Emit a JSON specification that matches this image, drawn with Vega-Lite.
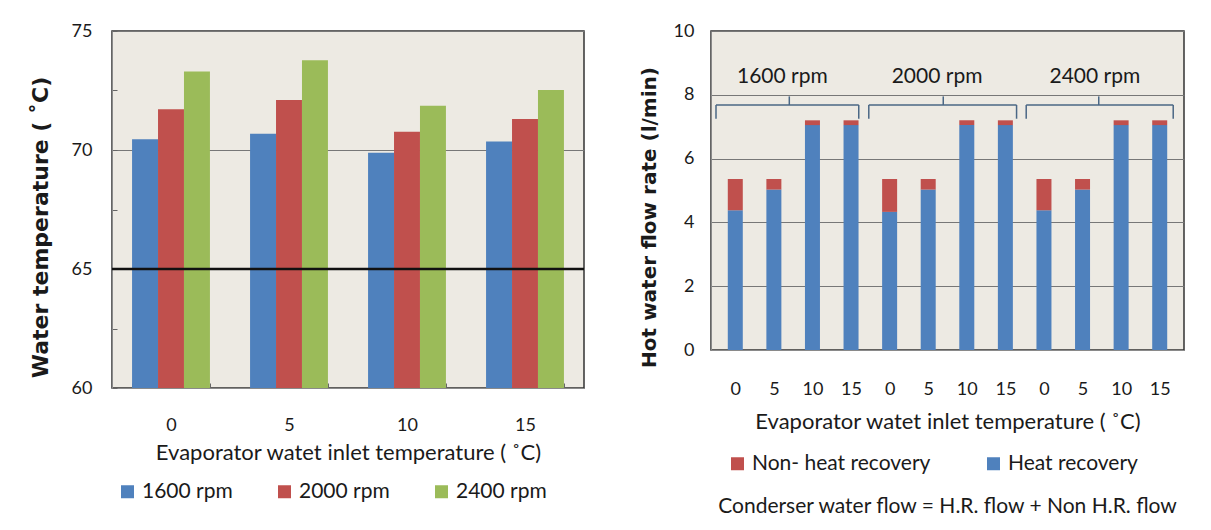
{
  "$schema": "https://vega.github.io/schema/vega-lite/v6.json",
  "background": "white",
  "padding": {"left": 28, "top": 21, "right": 5, "bottom": 5},
  "config": {
    "font": "Lato",
    "view": {"fill": "#EDEAE3", "stroke": "#333333", "strokeWidth": 1.5},
    "axis": {"labelColor": "#1a1a1a", "titleColor": "#1a1a1a", "labelFontSize": 18, "titleFontSize": 22, "titleFontWeight": "normal", "domainColor": "#8a8a8a", "tickColor": "#666666"},
    "legend": {"labelFontSize": 21, "labelColor": "#1a1a1a", "symbolType": "square", "symbolSize": 169, "symbolStrokeWidth": 0, "labelOffset": 4, "columnPadding": 41, "labelLimit": 400}
  },
  "resolve": {
    "scale": {"x": "independent", "y": "independent", "color": "independent"},
    "axis": {"x": "independent", "y": "independent"},
    "legend": {"color": "independent"}
  },
  "datasets": {
    "temps": [
      {"temp": 0, "rpm": "1600 rpm", "value": 70.45},
      {"temp": 0, "rpm": "2000 rpm", "value": 71.71},
      {"temp": 0, "rpm": "2400 rpm", "value": 73.3},
      {"temp": 5, "rpm": "1600 rpm", "value": 70.68},
      {"temp": 5, "rpm": "2000 rpm", "value": 72.1},
      {"temp": 5, "rpm": "2400 rpm", "value": 73.77},
      {"temp": 10, "rpm": "1600 rpm", "value": 69.88},
      {"temp": 10, "rpm": "2000 rpm", "value": 70.77},
      {"temp": 10, "rpm": "2400 rpm", "value": 71.86},
      {"temp": 15, "rpm": "1600 rpm", "value": 70.36},
      {"temp": 15, "rpm": "2000 rpm", "value": 71.3},
      {"temp": 15, "rpm": "2400 rpm", "value": 72.52}
    ],
    "flows": [
      {"idx": 0, "rpm": "1600 rpm", "temp": 0, "part": "Heat recovery", "flow": 4.38},
      {"idx": 0, "rpm": "1600 rpm", "temp": 0, "part": "Non- heat recovery", "flow": 0.98},
      {"idx": 1, "rpm": "1600 rpm", "temp": 5, "part": "Heat recovery", "flow": 5.03},
      {"idx": 1, "rpm": "1600 rpm", "temp": 5, "part": "Non- heat recovery", "flow": 0.33},
      {"idx": 2, "rpm": "1600 rpm", "temp": 10, "part": "Heat recovery", "flow": 7.05},
      {"idx": 2, "rpm": "1600 rpm", "temp": 10, "part": "Non- heat recovery", "flow": 0.15},
      {"idx": 3, "rpm": "1600 rpm", "temp": 15, "part": "Heat recovery", "flow": 7.05},
      {"idx": 3, "rpm": "1600 rpm", "temp": 15, "part": "Non- heat recovery", "flow": 0.15},
      {"idx": 4, "rpm": "2000 rpm", "temp": 0, "part": "Heat recovery", "flow": 4.33},
      {"idx": 4, "rpm": "2000 rpm", "temp": 0, "part": "Non- heat recovery", "flow": 1.03},
      {"idx": 5, "rpm": "2000 rpm", "temp": 5, "part": "Heat recovery", "flow": 5.03},
      {"idx": 5, "rpm": "2000 rpm", "temp": 5, "part": "Non- heat recovery", "flow": 0.33},
      {"idx": 6, "rpm": "2000 rpm", "temp": 10, "part": "Heat recovery", "flow": 7.05},
      {"idx": 6, "rpm": "2000 rpm", "temp": 10, "part": "Non- heat recovery", "flow": 0.15},
      {"idx": 7, "rpm": "2000 rpm", "temp": 15, "part": "Heat recovery", "flow": 7.05},
      {"idx": 7, "rpm": "2000 rpm", "temp": 15, "part": "Non- heat recovery", "flow": 0.15},
      {"idx": 8, "rpm": "2400 rpm", "temp": 0, "part": "Heat recovery", "flow": 4.38},
      {"idx": 8, "rpm": "2400 rpm", "temp": 0, "part": "Non- heat recovery", "flow": 0.98},
      {"idx": 9, "rpm": "2400 rpm", "temp": 5, "part": "Heat recovery", "flow": 5.03},
      {"idx": 9, "rpm": "2400 rpm", "temp": 5, "part": "Non- heat recovery", "flow": 0.33},
      {"idx": 10, "rpm": "2400 rpm", "temp": 10, "part": "Heat recovery", "flow": 7.05},
      {"idx": 10, "rpm": "2400 rpm", "temp": 10, "part": "Non- heat recovery", "flow": 0.15},
      {"idx": 11, "rpm": "2400 rpm", "temp": 15, "part": "Heat recovery", "flow": 7.05},
      {"idx": 11, "rpm": "2400 rpm", "temp": 15, "part": "Non- heat recovery", "flow": 0.15}
    ],
    "braces": [
      {"label": "1600 rpm", "start": -0.5, "end": 3.2, "mid": 1.4, "labelAt": 1.22},
      {"label": "2000 rpm", "start": 3.46, "end": 7.29, "mid": 5.39, "labelAt": 5.23},
      {"label": "2400 rpm", "start": 7.54, "end": 11.35, "mid": 9.42, "labelAt": 9.32}
    ],
    "ref": [{"line": 65}]
  },
  "hconcat": [
    {
      "width": 472,
      "height": 357,
      "layer": [
        {
          "data": {"name": "temps"},
          "mark": {"type": "bar", "clip": true},
          "encoding": {
            "x": {
              "field": "temp", "type": "ordinal",
              "scale": {"paddingInner": 0.34, "paddingOuter": 0.17},
              "title": "Evaporator watet inlet temperature ( ˚C)",
              "axis": {"labelAngle": 0, "tickBand": "extent", "tickSize": -5, "labelPadding": 33, "titlePadding": 8}
            },
            "xOffset": {"field": "rpm", "type": "nominal", "scale": {"paddingInner": 0, "paddingOuter": 0}},
            "y": {
              "field": "value", "type": "quantitative",
              "scale": {"domain": [60, 75], "zero": false, "nice": false},
              "title": "Water temperature ( ˚C)",
              "axis": {
                "values": [60, 62.5, 65, 67.5, 70, 72.5, 75],
                "labelExpr": "datum.value % 5 == 0 ? format(datum.value, 'd') : ''",
                "grid": true,
                "gridColor": {"condition": {"test": "datum.value % 5 != 0", "value": "transparent"}, "value": "#777777"},
                "tickSize": -5,
                "labelPadding": 25,
                "titleFont": "DejaVu Sans",
                "titleFontWeight": "bold",
                "titleFontSize": 22,
                "titlePadding": 19,
                "titleY": 196
              }
            },
            "color": {
              "field": "rpm", "type": "nominal",
              "scale": {"domain": ["1600 rpm", "2000 rpm", "2400 rpm"], "range": ["#4F81BD", "#C0504D", "#9BBB59"]},
              "legend": {"title": null, "orient": "none", "direction": "horizontal", "columns": 3, "legendX": 5, "legendY": 450}
            }
          }
        },
        {
          "data": {"name": "ref"},
          "mark": {"type": "rule", "color": "#111111", "strokeWidth": 2.5},
          "encoding": {"y": {"field": "line", "type": "quantitative", "title": "Water temperature ( ˚C)"}}
        }
      ]
    },
    {
      "width": 473,
      "height": 319,
      "title": {"text": "Conderser water flow = H.R. flow + Non H.R. flow", "orient": "bottom", "anchor": "middle", "fontSize": 21, "fontWeight": "normal", "color": "#1a1a1a", "font": "Lato", "offset": 22},
      "layer": [
        {
          "data": {"name": "flows"},
          "mark": {"type": "bar", "size": 15},
          "encoding": {
            "x": {
              "field": "idx", "type": "quantitative",
              "scale": {"domain": [-0.5, 11.5], "nice": false, "zero": false},
              "title": "Evaporator watet inlet temperature ( ˚C)",
              "axis": {
                "values": [0, 1, 2, 3, 4, 5, 6, 7, 8, 9, 10, 11],
                "labelExpr": "datum.value % 4 == 0 ? '0' : (datum.value % 4 == 1 ? '5' : (datum.value % 4 == 2 ? '10' : '15'))",
                "grid": false,
                "ticks": false,
                "labelPadding": 30,
                "titlePadding": 13
              }
            },
            "y": {
              "field": "flow", "type": "quantitative", "stack": "zero",
              "scale": {"domain": [0, 10], "nice": false},
              "title": "Hot water flow rate (l/min)",
              "axis": {
                "values": [0, 2, 4, 6, 8, 10],
                "grid": true,
                "gridColor": "#777777",
                "ticks": false,
                "labelPadding": 17,
                "titleFont": "DejaVu Sans",
                "titleFontWeight": "bold",
                "titleFontSize": 20,
                "titlePadding": 14,
                "titleY": 186
              }
            },
            "color": {
              "field": "part", "type": "nominal",
              "scale": {"domain": ["Non- heat recovery", "Heat recovery"], "range": ["#C0504D", "#4F81BD"]},
              "legend": {"title": null, "orient": "none", "direction": "horizontal", "columns": 2, "legendX": 16, "legendY": 422, "columnPadding": 52}
            },
            "order": {"field": "part", "sort": "ascending"}
          }
        },
        {
          "data": {"name": "braces"},
          "mark": {"type": "rule", "color": "#4A6785", "strokeWidth": 1.5},
          "encoding": {
            "x": {"field": "start", "type": "quantitative", "title": "Evaporator watet inlet temperature ( ˚C)"},
            "x2": {"field": "end"},
            "y": {"datum": 7.68, "type": "quantitative", "title": "Hot water flow rate (l/min)"}
          }
        },
        {
          "data": {"name": "braces"},
          "mark": {"type": "rule", "color": "#4A6785", "strokeWidth": 1.5},
          "encoding": {
            "x": {"field": "start", "type": "quantitative", "title": "Evaporator watet inlet temperature ( ˚C)"},
            "y": {"datum": 7.25, "type": "quantitative", "title": "Hot water flow rate (l/min)"},
            "y2": {"datum": 7.68}
          }
        },
        {
          "data": {"name": "braces"},
          "mark": {"type": "rule", "color": "#4A6785", "strokeWidth": 1.5},
          "encoding": {
            "x": {"field": "end", "type": "quantitative", "title": "Evaporator watet inlet temperature ( ˚C)"},
            "y": {"datum": 7.25, "type": "quantitative", "title": "Hot water flow rate (l/min)"},
            "y2": {"datum": 7.68}
          }
        },
        {
          "data": {"name": "braces"},
          "mark": {"type": "rule", "color": "#4A6785", "strokeWidth": 1.5},
          "encoding": {
            "x": {"field": "mid", "type": "quantitative", "title": "Evaporator watet inlet temperature ( ˚C)"},
            "y": {"datum": 7.68, "type": "quantitative", "title": "Hot water flow rate (l/min)"},
            "y2": {"datum": 7.95}
          }
        },
        {
          "data": {"name": "braces"},
          "mark": {"type": "text", "fontSize": 21, "color": "#1a1a1a", "font": "Lato"},
          "encoding": {
            "x": {"field": "labelAt", "type": "quantitative", "title": "Evaporator watet inlet temperature ( ˚C)"},
            "y": {"datum": 8.55, "type": "quantitative", "title": "Hot water flow rate (l/min)"},
            "text": {"field": "label"}
          }
        }
      ]
    }
  ],
  "spacing": 52
}
